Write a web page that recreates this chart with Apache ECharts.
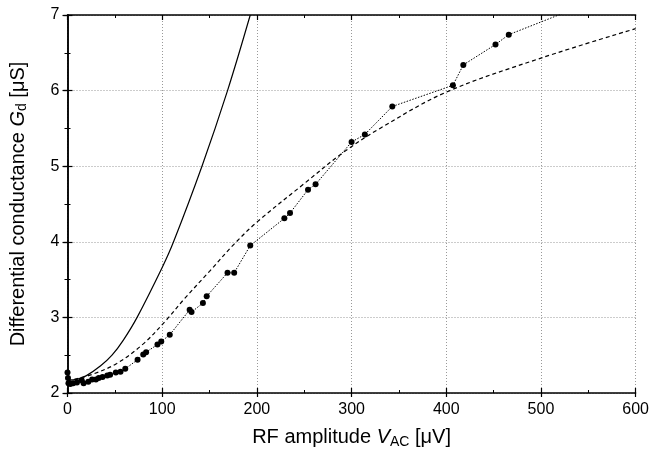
<!DOCTYPE html>
<html>
<head>
<meta charset="utf-8">
<script src="https://cdn.jsdelivr.net/npm/echarts@6/dist/echarts.min.js"></script>
<style>
  html, body { margin: 0; padding: 0; background: #fff; }
  #chart { width: 652px; height: 458px; }
</style>
</head>
<body>
<div id="chart"></div>
<script>
// measured points (dots joined by a dotted line)
var measX = [0, 0.5, 1, 3, 6, 10, 15, 17, 22, 26, 30, 33, 37, 42, 45, 51, 56, 61, 74, 80, 83, 95, 99, 108, 129, 131, 143, 147, 169, 176, 193, 229, 235, 254, 262, 300, 314, 343, 407, 418, 452, 466, 545]
var measY = [2.27, 2.2, 2.13, 2.12, 2.13, 2.14, 2.17, 2.13, 2.15, 2.18, 2.18, 2.2, 2.21, 2.23, 2.24, 2.27, 2.28, 2.32, 2.44, 2.51, 2.54, 2.64, 2.68, 2.77, 3.10, 3.07, 3.19, 3.28, 3.59, 3.59, 3.95, 4.31, 4.38, 4.69, 4.76, 5.32, 5.42, 5.79, 6.07, 6.34, 6.61, 6.74, 7.13]
// dashed curve
var dashX = [0, 13, 27, 52, 80, 104, 123, 150, 176, 200, 250, 291, 330, 400, 500, 600]
var dashY = [2.16, 2.2, 2.25, 2.39, 2.65, 2.96, 3.24, 3.61, 3.97, 4.26, 4.77, 5.18, 5.5, 5.98, 6.43, 6.82]
// solid curve
var solidX = [0, 10, 20, 35, 47, 59, 73.5, 100, 112, 142, 169, 193]
var solidY = [2.17, 2.18, 2.23, 2.36, 2.5, 2.7, 3.0, 3.66, 4.0, 5.0, 6.0, 7.0]

var xTicks = [0, 100, 200, 300, 400, 500, 600]
var yTicks = [2, 3, 4, 5, 6, 7]

function pairs (xs, ys) {
  return xs.map(function (x, i) { return [x, ys[i]] })
}

var font = "'Liberation Sans', Arial, sans-serif"
var xBase = { type: 'value', min: xTicks[0], max: xTicks[xTicks.length - 1], interval: 100 }
var yBase = { type: 'value', min: yTicks[0], max: yTicks[yTicks.length - 1], interval: 1 }
var lineBlack = { show: true, lineStyle: { color: '#000', width: 1.5 } }
var gridLine = { show: true, lineStyle: { color: '#999', type: [1, 2], width: 1 } }
var nameRich = {
  n: { fontSize: 20, fontFamily: font, color: '#000' },
  i: { fontSize: 20, fontFamily: font, fontStyle: 'italic', color: '#000' },
  s: { fontSize: 14, fontFamily: font, color: '#000', padding: [9, 0, 0, 0] }
}

// inner tick rows (no labels) for the mirrored/inside ticks
function tickAxis (base, pos, withLine) {
  return Object.assign({}, base, {
    position: pos,
    axisLine: withLine ? lineBlack : { show: false },
    axisTick: { show: true, inside: true, length: 5, lineStyle: { color: '#000', width: 1.2 } },
    minorTick: { show: true, splitNumber: 2, length: 3, lineStyle: { color: '#000', width: 1 } },
    axisLabel: { show: false },
    splitLine: { show: false }
  })
}

var option = {
  animation: false,
  backgroundColor: '#fff',
  grid: { left: 67, right: 15, top: 15, bottom: 65 },
  xAxis: [
    Object.assign({}, xBase, {
      position: 'bottom',
      axisLine: lineBlack,
      axisTick: { show: true, inside: false, length: 4, lineStyle: { color: '#000', width: 1.2 } },
      axisLabel: { color: '#000', fontSize: 16, fontFamily: font, margin: 9 },
      splitLine: gridLine,
      name: '{n|RF amplitude }{i|V}{s|AC}{n| [μV]}',
      nameLocation: 'middle',
      nameGap: 33,
      nameTextStyle: { color: '#000', fontFamily: font, rich: nameRich }
    }),
    tickAxis(xBase, 'top', true),
    tickAxis(xBase, 'bottom', false)
  ],
  yAxis: [
    Object.assign({}, yBase, {
      position: 'left',
      axisLine: lineBlack,
      axisTick: { show: true, inside: false, length: 4, lineStyle: { color: '#000', width: 1.2 } },
      axisLabel: { color: '#000', fontSize: 16, fontFamily: font, margin: 8 },
      splitLine: gridLine,
      name: '{n|Differential conductance }{i|G}{s|d}{n| [μS]}',
      nameLocation: 'middle',
      nameGap: 38,
      nameTextStyle: { color: '#000', fontFamily: font, rich: nameRich }
    }),
    tickAxis(yBase, 'right', true),
    tickAxis(yBase, 'left', false)
  ],
  series: [
    {
      type: 'line',
      data: pairs(solidX, solidY),
      smooth: 0.35,
      showSymbol: false,
      clip: true,
      lineStyle: { color: '#000', width: 1.2 }
    },
    {
      type: 'line',
      data: pairs(dashX, dashY),
      smooth: 0.35,
      showSymbol: false,
      clip: true,
      lineStyle: { color: '#000', width: 1.2, type: [4, 3] }
    },
    {
      type: 'line',
      data: pairs(measX, measY),
      symbol: 'circle',
      symbolSize: 6,
      clip: true,
      itemStyle: { color: '#000' },
      lineStyle: { color: '#000', width: 1, type: [1.5, 1.5] }
    }
  ]
}

var myChart = echarts.init(document.getElementById('chart'))
myChart.setOption(option)
</script>
</body>
</html>
